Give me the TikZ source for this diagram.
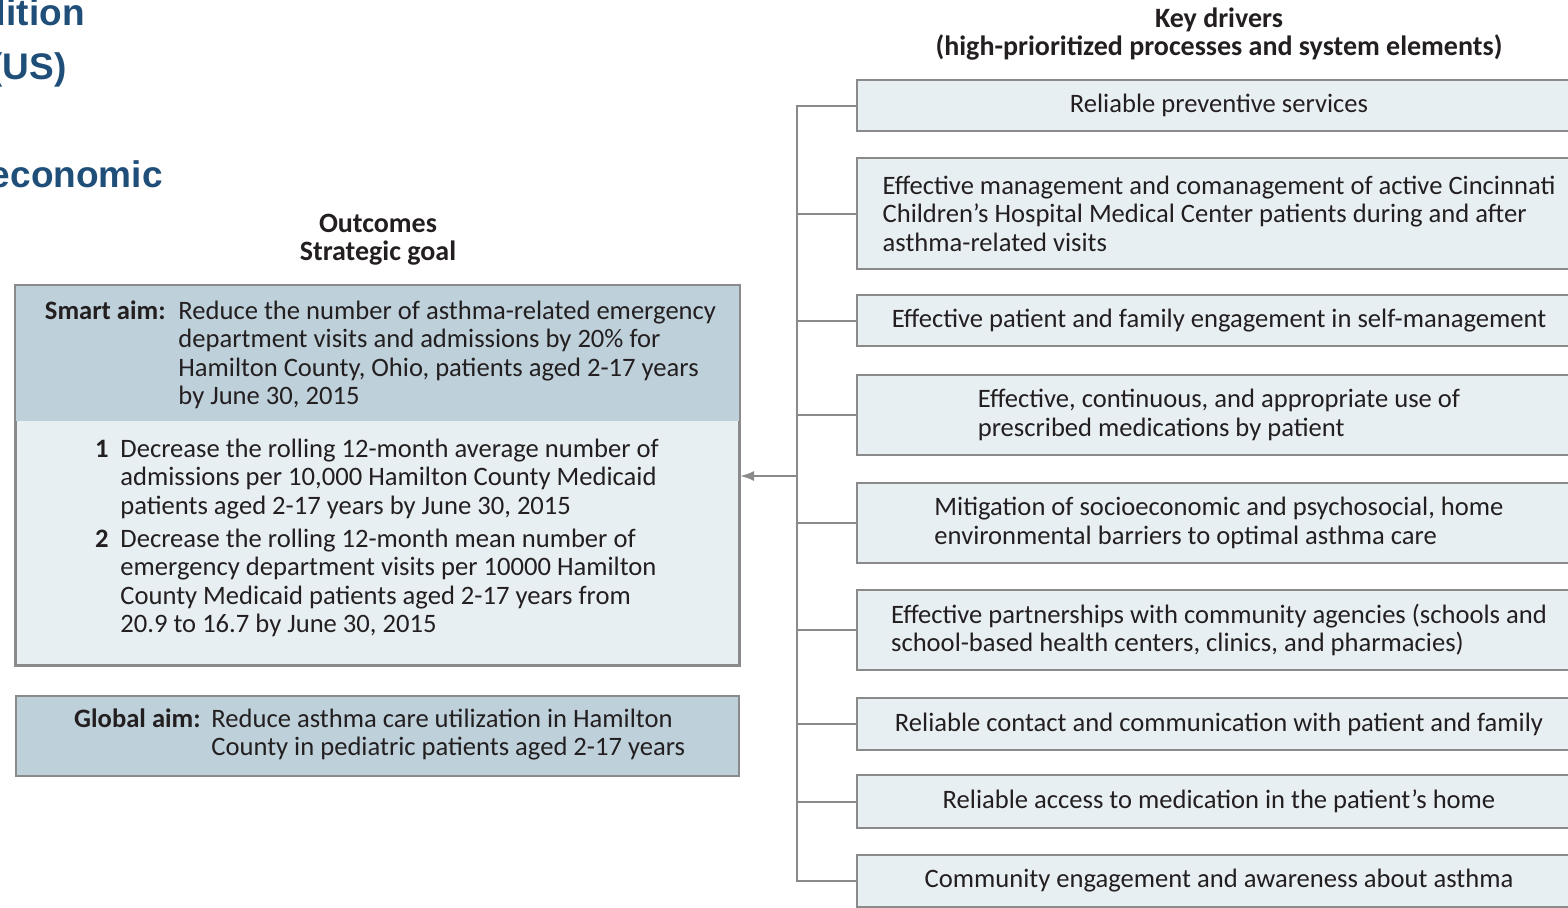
\documentclass[tikz,border=0pt]{standalone}
\usepackage{fontspec}
\setmainfont{Carlito}
\newfontfamily\titlefont{Liberation Sans}
\usetikzlibrary{positioning,arrows.meta}

\definecolor{titleblue}{RGB}{31,78,121}
\definecolor{boxgray}{RGB}{138,138,138}
\definecolor{lightfill}{RGB}{232,239,243}
\definecolor{darkfill}{RGB}{190,208,218}
\definecolor{inkgray}{RGB}{35,31,32}

\tikzset{
  body/.style={font=\fontsize{13.3}{14.25}\selectfont, text=inkgray, inner sep=0pt},
  bodybold/.style={font=\bfseries\fontsize{13.3}{14.25}\selectfont, text=inkgray, inner sep=0pt},
  driver/.style={body, draw=boxgray, line width=1pt, fill=lightfill, minimum width=362pt, align=left},
  headtext/.style={font=\bfseries\fontsize{14}{14}\selectfont, text=inkgray, align=center},
  bluetitle/.style={font=\titlefont\bfseries\fontsize{18.5}{27}\selectfont, text=titleblue, anchor=base east, inner sep=0pt},
  link/.style={draw=boxgray, line width=1pt},
}

\begin{document}
\begin{tikzpicture}[x=0.5pt,y=-0.5pt]
\useasboundingbox (0,0) rectangle (1568,907);
\clip (0,0) rectangle (1568,907);

% cut-off title on the left
\node[bluetitle] (title1) at (85,25) {dition};
\node[bluetitle] (title2) at (67,79) {(US)};
\node[bluetitle] (title3) at (163,187) {economic};

% headings
\node[headtext] (outhead) at (378,240) {Outcomes\\Strategic goal};
\node[headtext] (keyhead) at (1219,34) {Key drivers\\(high-prioritized processes and system elements)};

% outcome panel
\node[draw=boxgray, line width=1pt, fill=lightfill, minimum width=361.5pt, minimum height=189.5pt, inner sep=0pt] (outcome) at (377.5,475.5) {};
\node[fill=darkfill, minimum width=361.5pt, minimum height=68pt, inner sep=0pt, anchor=north] (smartband) at (outcome.north) {};
\draw[link] (outcome.north west) rectangle (outcome.south east);

\node[bodybold, anchor=base east] (smartlbl) at (166,319) {Smart aim:};
\node[body, align=left, anchor=base west] (smarttxt) at (178,404.5) {Reduce the number of asthma-related emergency\\department visits and admissions by 20\% for\\Hamilton County, Ohio, patients aged 2-17 years\\by June 30, 2015};

\node[bodybold, anchor=base east] (num1) at (109,457) {1};
\node[body, align=left, anchor=base west] (item1) at (120,514) {Decrease the rolling 12-month average number of\\admissions per 10,000 Hamilton County Medicaid\\patients aged 2-17 years by June 30, 2015};
\node[bodybold, anchor=base east] (num2) at (109,547) {2};
\node[body, align=left, anchor=base west] (item2) at (120,632.5) {Decrease the rolling 12-month mean number of\\emergency department visits per 10000 Hamilton\\County Medicaid patients aged 2-17 years from\\20.9 to 16.7 by June 30, 2015};

% global aim
\node[draw=boxgray, line width=1pt, fill=darkfill, minimum width=361.5pt, minimum height=40pt, inner sep=0pt] (global) at (377.5,736) {};
\node[bodybold, anchor=base east] (globallbl) at (201,727) {Global aim:};
\node[body, align=left, anchor=base west] (globaltxt) at (211,755.5) {Reduce asthma care utilization in Hamilton\\County in pediatric patients aged 2-17 years};

% key drivers
\node[driver, minimum height=25.5pt] (d1) at (1219,105.5) {Reliable preventive services};
\node[driver, minimum height=55.5pt] (d2) at (1219,213.5) {Effective management and comanagement of active Cincinnati\\Children's Hospital Medical Center patients during and after\\asthma-related visits};
\node[driver, minimum height=25.5pt] (d3) at (1219,320.5) {Effective patient and family engagement in self-management};
\node[driver, minimum height=40pt] (d4) at (1219,415) {Effective, continuous, and appropriate use of\\prescribed medications by patient};
\node[driver, minimum height=40pt] (d5) at (1219,523) {Mitigation of socioeconomic and psychosocial, home\\environmental barriers to optimal asthma care};
\node[driver, minimum height=40pt] (d6) at (1219,630) {Effective partnerships with community agencies (schools and\\school-based health centers, clinics, and pharmacies)};
\node[driver, minimum height=26pt] (d7) at (1219,724) {Reliable contact and communication with patient and family};
\node[driver, minimum height=26.5pt] (d8) at (1219,801.5) {Reliable access to medication in the patient's home};
\node[driver, minimum height=26pt] (d9) at (1219,881) {Community engagement and awareness about asthma};

% connectors
\coordinate (hub) at (797,476);
\foreach \i in {1,...,9}
  \draw[link] (d\i.west) -| (hub);
\draw[link, -{Latex[length=7pt,width=5pt]}] (hub) -- (outcome.east |- hub);
\end{tikzpicture}
\end{document}
